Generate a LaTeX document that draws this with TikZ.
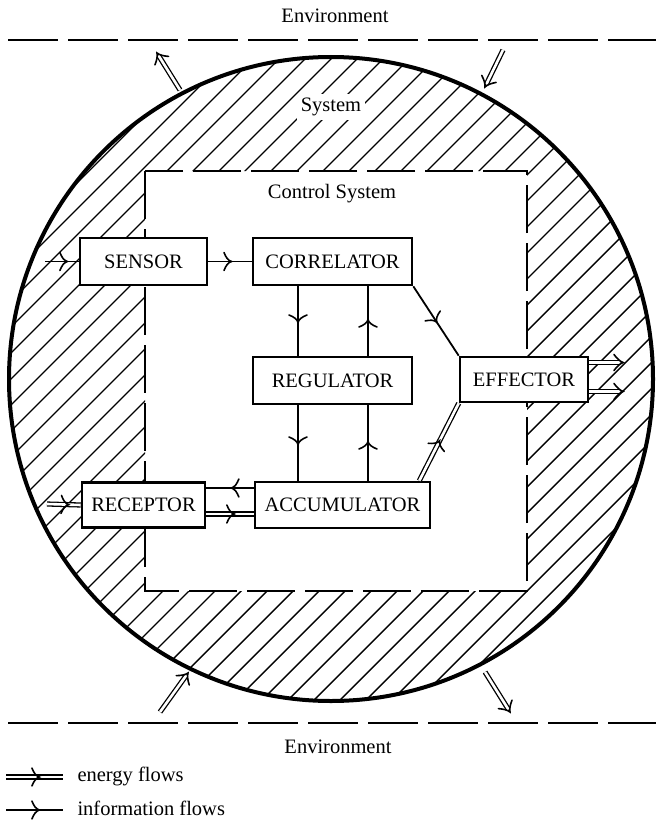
\documentclass[tikz,border=0pt]{standalone}
\usepackage{fontspec}
\setmainfont{Liberation Serif}
\usetikzlibrary{arrows.meta,decorations.markings}
\tikzset{
  box/.style={draw, line width=2.6pt, fill=white, minimum height=46pt, inner sep=0pt},
  info/.style={line width=1.8pt},
  energy/.style={double, double distance=2.6pt, line width=1.3pt},
  midbarb/.style={postaction={decorate, decoration={markings, mark=at position #1 with {\draw[line width=1.6pt, line cap=round] (-6pt,9pt) .. controls (-4pt,4pt) and (-2pt,1pt) .. (1.5pt,0pt) .. controls (-2pt,-1pt) and (-4pt,-4pt) .. (-6pt,-9pt);}}}},
  midbarb/.default=0.5,
  endbarb/.style={postaction={decorate, decoration={markings, mark=at position 1 with {\draw[line width=1.6pt, line cap=round] (-9pt,8pt) .. controls (-6pt,4pt) and (-3pt,1pt) .. (0pt,0pt) .. controls (-3pt,-1pt) and (-6pt,-4pt) .. (-9pt,-8pt);}}}},
  ehead/.style={shorten >=3pt},
  envline/.style={line width=1.9pt, dash pattern=on 50pt off 10pt, dash phase=52pt},
}
\begin{document}
\begin{tikzpicture}[x=1pt,y=-1pt, font=\fontsize{20.5}{24}\selectfont]
\useasboundingbox (0,0) rectangle (656,824);
% hatching
\begin{scope}[even odd rule]
  \clip (331,379) circle [radius=322pt] (145,171) rectangle (527,591);
  \foreach \c in {0,26,...,1500} \draw[line width=1.4pt] (\c,0) -- (\c-900,900);
\end{scope}
\draw[line width=2pt, dash pattern=on 48pt off 10pt] (145,171) rectangle (527,591);
\draw[line width=4pt] (331,379) circle [radius=322pt];
\draw[envline] (0,40) -- (656,40);
\draw[envline] (0,723) -- (656,723);
% labels
\node (envtop) at (335,16) {Environment};
\node (envbot) at (338,747) {Environment};
\node[fill=white, inner sep=4pt] (sys) at (331,107) {System};
\node (cs) at (332,194) {Control System};
% boxes
\node[box, minimum width=127pt, minimum height=47pt] (sensor) at (143.5,261.5) {SENSOR};
\node[box, minimum width=159pt, minimum height=47pt] (correlator) at (332.5,261.5) {CORRELATOR};
\node[box, minimum width=159pt, minimum height=47pt] (regulator) at (332.5,380.5) {REGULATOR};
\node[box, minimum width=128pt, minimum height=45pt] (effector) at (524,379.5) {EFFECTOR};
\node[box, minimum width=123pt, minimum height=45pt] (receptor) at (143.5,505) {RECEPTOR};
\node[box, minimum width=175pt, minimum height=46pt] (accumulator) at (342.5,505) {ACCUMULATOR};
% information flows
\coordinate (sin) at (45,261.5);
\draw[info, midbarb=0.62] (sin) -- (sensor.west);
\draw[info, midbarb] (sensor.east) -- (correlator.west);
\draw[info, midbarb] ([xshift=-34.5pt]correlator.south) -- ([xshift=-34.5pt]regulator.north);
\draw[info, midbarb] ([xshift=35.5pt]regulator.north) -- ([xshift=35.5pt]correlator.south);
\draw[info, midbarb] ([xshift=-34.5pt]regulator.south) -- ([xshift=-44.5pt]accumulator.north);
\draw[info, midbarb] ([xshift=25.5pt]accumulator.north) -- ([xshift=35.5pt]regulator.south);
\draw[info, midbarb] (correlator.south east) -- (effector.north west);
\draw[info, midbarb=0.44] ([yshift=17pt]accumulator.west) -- ([yshift=17pt]receptor.east);
% energy flows
\draw[energy] ([xshift=-12pt]accumulator.north east) -- (effector.south west);
\path[midbarb] ([xshift=-12pt]accumulator.north east) -- (effector.south west);
\draw[energy] ([yshift=-9pt]receptor.east) -- ([yshift=-9pt]accumulator.west);
\path[midbarb=0.56] ([yshift=-9pt]receptor.east) -- ([yshift=-9pt]accumulator.west);
\coordinate (rin) at (47,504);
\draw[energy] (rin) -- (receptor.west);
\path[midbarb=0.6] (rin) -- (receptor.west);
\coordinate (eo1) at (623,362.5);
\coordinate (eo2) at (623,391.5);
\draw[energy, ehead] ([yshift=17pt]effector.east) -- (eo1);
\path[endbarb] ([yshift=17pt]effector.east) -- (eo1);
\draw[energy, ehead] ([yshift=-12pt]effector.east) -- (eo2);
\path[endbarb] ([yshift=-12pt]effector.east) -- (eo2);
% environment exchanges
\coordinate (a1) at (180,90);  \coordinate (a2) at (157,53);
\coordinate (b1) at (503,50);  \coordinate (b2) at (485,87);
\coordinate (c1) at (160,712); \coordinate (c2) at (188,673);
\coordinate (d1) at (485,672); \coordinate (d2) at (510,712);
\foreach \s/\t in {a1/a2, b1/b2, c1/c2, d1/d2} {
  \draw[energy, ehead] (\s) -- (\t);
  \path[endbarb] (\s) -- (\t);
}
% legend
\coordinate (le1) at (6,777); \coordinate (le2) at (63,777);
\draw[energy] (le1) -- (le2);
\path[midbarb=0.56] (le1) -- (le2);
\node[anchor=west] (let) at (74,776) {energy flows};
\coordinate (li1) at (6,810); \coordinate (li2) at (63,810);
\draw[info, midbarb=0.56] (li1) -- (li2);
\node[anchor=west] (lit) at (74,808) {information flows};
\end{tikzpicture}
\end{document}
